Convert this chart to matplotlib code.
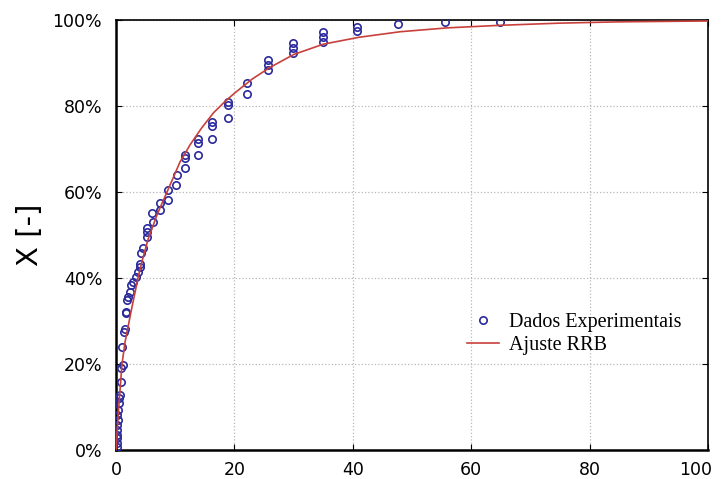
import matplotlib

matplotlib.use("Agg")
import matplotlib.pyplot as plt  # noqa: E402
import matplotlib.transforms as mtransforms  # noqa: E402
from matplotlib.ticker import FuncFormatter  # noqa: E402

BLUE = "#2a2a9c"
RED = "#c8403c"
GRID = "#b8b8b8"

# experimental points (diameter, cumulative fraction %)
exp_x = [0.2, 0.2, 0.2, 0.2, 0.2, 0.2, 0.3, 0.2, 0.3, 0.5, 0.5, 0.6, 0.8, 0.9,
         1.1, 1.0, 1.3, 1.5, 1.7, 1.7, 1.9, 2.0, 2.4, 2.6, 2.9, 3.4, 3.7, 4.0,
         4.0, 4.2, 4.5, 5.2, 5.2, 5.3, 6.2, 6.1, 7.4, 7.4, 8.8, 8.8, 10.2, 10.3,
         11.7, 11.7, 11.7, 13.9, 13.9, 13.9, 16.2, 16.2, 16.2, 18.9, 18.9, 18.9,
         22.1, 22.1, 25.7, 25.7, 25.7, 29.9, 29.9, 29.9, 35.0, 35.0, 35.0,
         40.7, 40.7, 47.6, 55.6, 64.9]
exp_y = [0.7, 1.6, 2.8, 3.5, 4.7, 5.8, 7.0, 8.1, 9.3, 10.9, 12.1, 12.8, 15.9, 19.1,
         19.8, 24.0, 27.4, 28.1, 31.8, 32.1, 34.9, 35.6, 36.7, 38.4, 39.1, 40.2, 41.4, 42.6,
         43.2, 45.8, 47.0, 49.5, 50.7, 51.6, 53.0, 55.1, 55.8, 57.4, 58.1, 60.5, 61.6, 64.0,
         65.6, 67.9, 68.6, 68.6, 71.4, 72.3, 72.3, 75.3, 76.3, 77.2, 80.2, 80.9,
         82.8, 85.3, 88.4, 89.5, 90.7, 92.3, 93.5, 94.6, 95.0, 96.1, 97.3,
         97.4, 98.4, 99.2, 99.5, 99.5]

# RRB fitted curve
fit_x = [0, 0.2, 0.45, 1.0, 1.5, 2.5, 3.7, 4.4, 5.4, 7.0, 8.6, 10.8, 12.5, 14.5,
         16.5, 18.5, 20.0, 23.0, 26.0, 30.0, 35.0, 41.0, 48.0, 56.0, 65.0, 75.0,
         85.0, 100.0]
fit_y = [0, 5, 10, 20, 25, 32, 40, 44, 49, 55, 60, 67, 71, 75,
         78.5, 81.2, 83, 86.3, 89, 92, 94.4, 96, 97.3, 98.2, 98.8, 99.3,
         99.6, 99.8]

fig = plt.figure(figsize=(7.21, 4.79), dpi=100)
ax = fig.add_axes([0.161, 0.0605, 0.821, 0.8975])

ax.plot(exp_x, exp_y, linestyle="none", marker="o", markersize=5.3,
        markerfacecolor="none", markeredgecolor=BLUE, markeredgewidth=1.2,
        label="Dados Experimentais", zorder=3)
ax.plot(fit_x, fit_y, color=RED, linewidth=1.2, label="Ajuste RRB", zorder=4)

ax.set_xlim(0, 100)
ax.set_ylim(0, 100)
ax.set_xticks([0, 20, 40, 60, 80, 100])
ax.set_yticks([0, 20, 40, 60, 80, 100])
ax.yaxis.set_major_formatter(FuncFormatter(lambda v, _p: f"{v:.0f}%"))
ax.grid(True, color=GRID, linestyle=":", linewidth=0.9)
ax.set_axisbelow(True)
ax.tick_params(direction="in", top=True, right=True, length=4,
               labelsize=12.5, colors="black")
ax.tick_params(axis="x", pad=8)
ax.tick_params(axis="y", pad=10)
for side in ["left", "bottom"]:
    ax.spines[side].set_linewidth(1.8)
for side in ["top", "right"]:
    ax.spines[side].set_linewidth(1.2)

# nudge the last x label inside the figure, as in the original
fig.canvas.draw()
last = ax.get_xticklabels()[-1]
last.set_transform(last.get_transform()
                   + mtransforms.ScaledTranslation(-9 / 72, 0, fig.dpi_scale_trans))

ax.set_ylabel("X [-]", fontsize=21, labelpad=6)

ax.legend(loc="center left", bbox_to_anchor=(0.575, 0.27), frameon=False,
          prop={"family": "Liberation Serif", "size": 14.5},
          handlelength=1.6, handletextpad=0.5, labelspacing=0.15, borderpad=0)

fig.savefig("out.png", dpi=100, facecolor="white")
